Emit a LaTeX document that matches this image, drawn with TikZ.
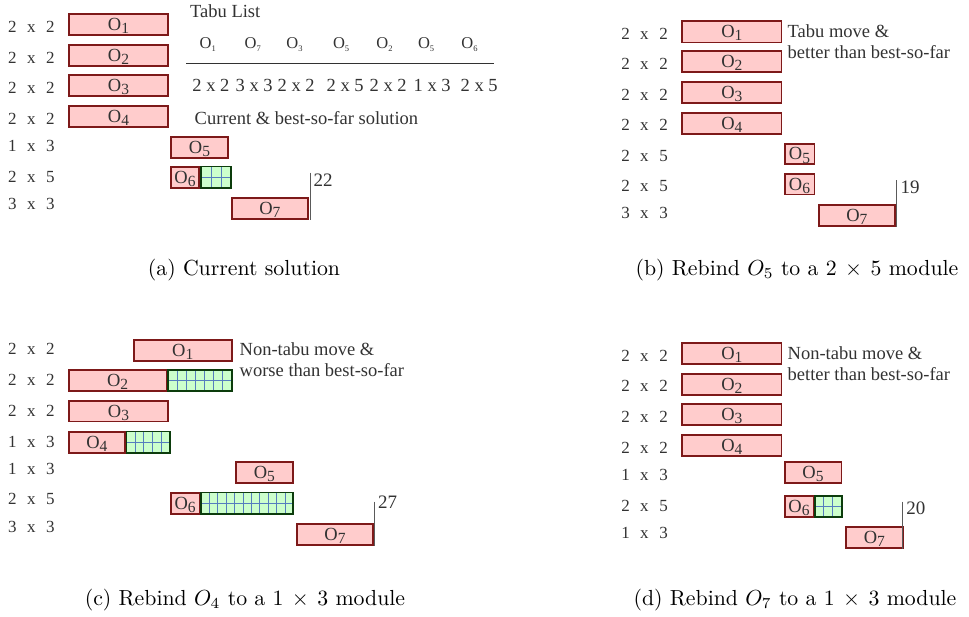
\documentclass[tikz,border=0pt]{standalone}
\usepackage{fontspec}
\newfontfamily\dfont{Liberation Serif}
\usetikzlibrary{calc}
\definecolor{boxred}{RGB}{125,25,25}
\definecolor{boxfill}{RGB}{255,204,204}
\definecolor{gfillc}{RGB}{204,255,204}
\definecolor{gborderc}{RGB}{12,60,12}
\definecolor{glinec}{RGB}{85,125,190}
\definecolor{txtgray}{RGB}{50,50,50}
\definecolor{mkgray}{RGB}{90,90,90}
\newcommand\Ob[1]{{\fontsize{18.5}{19}\selectfont O}\raisebox{-3.3pt}[0pt][0pt]{\fontsize{15.5}{16}\selectfont #1}}
\newcommand\Ot[1]{{\fontsize{16.5}{17}\selectfont O}\raisebox{-3pt}[0pt][0pt]{\fontsize{8.5}{9}\selectfont #1}}
\newcommand\rl[3]{#1\hspace{10.5pt}#2\hspace{10.5pt}#3}
\newcommand\obox[6]{%
  \pgfmathsetmacro\oW{#4-#2-1.8}\pgfmathsetmacro\oH{#5-#3-1.8}%
  \pgfmathsetmacro\oX{(#2+#4)/2}\pgfmathsetmacro\oY{(#3+#5)/2}%
  \node[opbox,minimum width=\oW pt,minimum height=\oH pt] (#1) at (\oX,\oY) {#6};}
\newcommand\gbox[6]{%
  \pgfmathsetmacro\oW{#4-#2-1.8}\pgfmathsetmacro\oH{#5-#3-1.8}%
  \pgfmathsetmacro\oX{(#2+#4)/2}\pgfmathsetmacro\oY{(#3+#5)/2}%
  \pgfmathtruncatemacro\oN{#6-1}%
  \node[gfillbox,minimum width=\oW pt,minimum height=\oH pt] (#1) at (\oX,\oY) {};
  \draw[gline] (#1.west) -- (#1.east);
  \foreach \k in {1,...,\oN}{\draw[gline] ($(#1.north west)!\k/#6!(#1.north east)$) -- ($(#1.south west)!\k/#6!(#1.south east)$);}
  \draw[gborder] (#1.north west) rectangle (#1.south east);}
\tikzset{
  opbox/.style={draw=boxred, fill=boxfill, line width=1.8pt, inner sep=0pt, text=txtgray, font=\dfont},
  gfillbox/.style={fill=gfillc, inner sep=0pt},
  gline/.style={draw=glinec, line width=0.8pt},
  gborder/.style={draw=gborderc, line width=1.8pt},
  rowlab/.style={inner sep=0pt, text=txtgray, font=\dfont\fontsize{17}{17}\selectfont},
  ann/.style={inner sep=0pt, text=txtgray, font=\dfont\fontsize{18.5}{19}\selectfont, anchor=base west},
  num/.style={inner sep=0pt, text=txtgray, font=\dfont\fontsize{19}{19}\selectfont, anchor=base west},
  tabo/.style={inner sep=0pt, text=txtgray, font=\dfont, anchor=base west},
  mkline/.style={draw=mkgray, line width=1pt},
  tabline/.style={draw=txtgray, line width=1pt},
  capt/.style={inner sep=0pt, scale=2.18, font=\fontsize{10}{12}\selectfont, anchor=base}
}
\begin{document}
\begin{tikzpicture}[x=1pt,y=-1pt]
\useasboundingbox (0,0) rectangle (969,616);
% ---------------- (a)
\node[rowlab] (la1) at (31.5,27.3) {\rl 2x2};
\node[rowlab] (la2) at (31.5,57.5) {\rl 2x2};
\node[rowlab] (la3) at (31.5,87.5) {\rl 2x2};
\node[rowlab] (la4) at (31.5,118.7) {\rl 2x2};
\node[rowlab] (la5) at (31.5,145.8) {\rl 1x3};
\node[rowlab] (la6) at (31.5,176.5) {\rl 2x5};
\node[rowlab] (la7) at (31.5,204.3) {\rl 3x3};
\obox{a1}{68}{12.7}{169}{35.7}{\Ob1}
\obox{a2}{68}{43.7}{169}{66.7}{\Ob2}
\obox{a3}{68}{74}{169}{97}{\Ob3}
\obox{a4}{68}{105}{169}{127.7}{\Ob4}
\obox{a5}{170}{135.7}{229}{158.7}{\Ob5}
\obox{a6}{170}{165.7}{200}{188.7}{\Ob6}
\gbox{ga6}{200}{165.7}{232}{188.7}{3}
\obox{a7}{230.7}{196.7}{309}{220}{\Ob7}
\coordinate (ta) at (310,172.7);
\draw[mkline] (ta) -- (ta |- a7.south);
\node[num] (na) at (313.5,186) {22};
\node[ann] (tl) at (190,17.3) {Tabu List};
\node[tabo] (t1) at (199.5,48.3) {\Ot1};
\node[tabo] (t2) at (244.5,48.3) {\Ot7};
\node[tabo] (t3) at (286.2,48.3) {\Ot3};
\node[tabo] (t4) at (332.8,48.3) {\Ot5};
\node[tabo] (t5) at (376.2,48.3) {\Ot2};
\node[tabo] (t6) at (417.8,48.3) {\Ot5};
\node[tabo] (t7) at (461.2,48.3) {\Ot6};
\coordinate (tla) at (186,63.3);
\coordinate (tlb) at (494,63.3);
\draw[tabline] (tla) -- (tlb);
\node[ann] (v1) at (192.2,91.7) {2 x 2};
\node[ann] (v2) at (235.5,91.7) {3 x 3};
\node[ann] (v3) at (277.5,91.7) {2 x 2};
\node[ann] (v4) at (326.5,91.7) {2 x 5};
\node[ann] (v5) at (369.5,91.7) {2 x 2};
\node[ann] (v6) at (413.5,91.7) {1 x 3};
\node[ann] (v7) at (460.5,91.7) {2 x 5};
\node[ann] (cur) at (194.5,124) {Current \& best-so-far solution};
\node[capt] (capa) at (244,275) {(a) Current solution};
% ---------------- (b)
\node[rowlab] (lb1) at (644.5,33.7) {\rl 2x2};
\node[rowlab] (lb2) at (644.5,63.7) {\rl 2x2};
\node[rowlab] (lb3) at (644.5,94.5) {\rl 2x2};
\node[rowlab] (lb4) at (644.5,125) {\rl 2x2};
\node[rowlab] (lb5) at (644.5,155.8) {\rl 2x5};
\node[rowlab] (lb6) at (644.5,186.3) {\rl 2x5};
\node[rowlab] (lb7) at (644.5,213.3) {\rl 3x3};
\obox{b1}{681.3}{20}{782.3}{43.3}{\Ob1}
\obox{b2}{681.3}{50}{782.3}{72.7}{\Ob2}
\obox{b3}{681.3}{80.7}{782.3}{104}{\Ob3}
\obox{b4}{681.3}{112}{782.3}{135}{\Ob4}
\obox{b5}{783.7}{142.7}{815.3}{165}{\Ob5}
\obox{b6}{783.7}{172.7}{815.3}{195.3}{\Ob6}
\obox{b7}{817.7}{203.7}{896}{227}{\Ob7}
\coordinate (tb) at (896,180);
\draw[mkline] (tb) -- (tb |- b7.south);
\node[num] (nb) at (900.5,193) {19};
\node[ann] (anb1) at (787.5,37.3) {Tabu move \&};
\node[ann] (anb2) at (787.5,58.3) {better than best-so-far};
\node[capt] (capb) at (797,275) {(b) Rebind $O_5$ to a $2\,\times\,5$ module};
% ---------------- (c)
\node[rowlab] (lc1) at (31.5,349) {\rl 2x2};
\node[rowlab] (lc2) at (31.5,380) {\rl 2x2};
\node[rowlab] (lc3) at (31.5,410.7) {\rl 2x2};
\node[rowlab] (lc4) at (31.5,441.7) {\rl 1x3};
\node[rowlab] (lc5) at (31.5,469) {\rl 1x3};
\node[rowlab] (lc6) at (31.5,499) {\rl 2x5};
\node[rowlab] (lc7) at (31.5,526.7) {\rl 3x3};
\obox{c1}{132.7}{339}{232.7}{362}{\Ob1}
\obox{c2}{68}{369.3}{167.3}{391.7}{\Ob2}
\gbox{gc2}{167.3}{369.3}{232.3}{391.7}{7}
\obox{c3}{68}{400}{169}{422.3}{\Ob3}
\obox{c4}{68}{430.7}{125.7}{454}{\Ob4}
\gbox{gc4}{125.7}{430.7}{170.3}{454}{5}
\obox{c5}{234.7}{460.7}{294}{484}{\Ob5}
\obox{c6}{170}{491.7}{200.3}{515}{\Ob6}
\gbox{gc6}{200.3}{491.7}{294}{515}{11}
\obox{c7}{296}{522.7}{374}{546}{\Ob7}
\coordinate (tc) at (374,501.7);
\draw[mkline] (tc) -- (tc |- c7.south);
\node[num] (nc) at (377.8,508.6) {27};
\node[ann] (anc1) at (239.5,355) {Non-tabu move \&};
\node[ann] (anc2) at (239.5,376) {worse than best-so-far};
\node[capt] (capc) at (245,605) {(c) Rebind $O_4$ to a $1\,\times\,3$ module};
% ---------------- (d)
\node[rowlab] (ld1) at (644.5,355.5) {\rl 2x2};
\node[rowlab] (ld2) at (644.5,386.3) {\rl 2x2};
\node[rowlab] (ld3) at (644.5,417) {\rl 2x2};
\node[rowlab] (ld4) at (644.5,447.8) {\rl 2x2};
\node[rowlab] (ld5) at (644.5,475) {\rl 1x3};
\node[rowlab] (ld6) at (644.5,506.3) {\rl 2x5};
\node[rowlab] (ld7) at (644.5,533) {\rl 1x3};
\obox{d1}{681.3}{342}{782.3}{364.7}{\Ob1}
\obox{d2}{681.3}{372.7}{782.3}{396}{\Ob2}
\obox{d3}{681.3}{403}{782.3}{426}{\Ob3}
\obox{d4}{681.3}{434}{782.3}{456.7}{\Ob4}
\obox{d5}{783.7}{460.7}{842.3}{484}{\Ob5}
\obox{d6}{783.7}{495}{814.3}{518}{\Ob6}
\gbox{gd6}{814.3}{495}{842.3}{518}{3}
\obox{d7}{845}{525.7}{903.7}{549}{\Ob7}
\coordinate (td) at (902.7,501.7);
\draw[mkline] (td) -- (td |- d7.south);
\node[num] (nd) at (906.2,514.6) {20};
\node[ann] (and1) at (787.5,359) {Non-tabu move \&};
\node[ann] (and2) at (787.5,380) {better than best-so-far};
\node[capt] (capd) at (795,605) {(d) Rebind $O_7$ to a $1\,\times\,3$ module};
\end{tikzpicture}
\end{document}
